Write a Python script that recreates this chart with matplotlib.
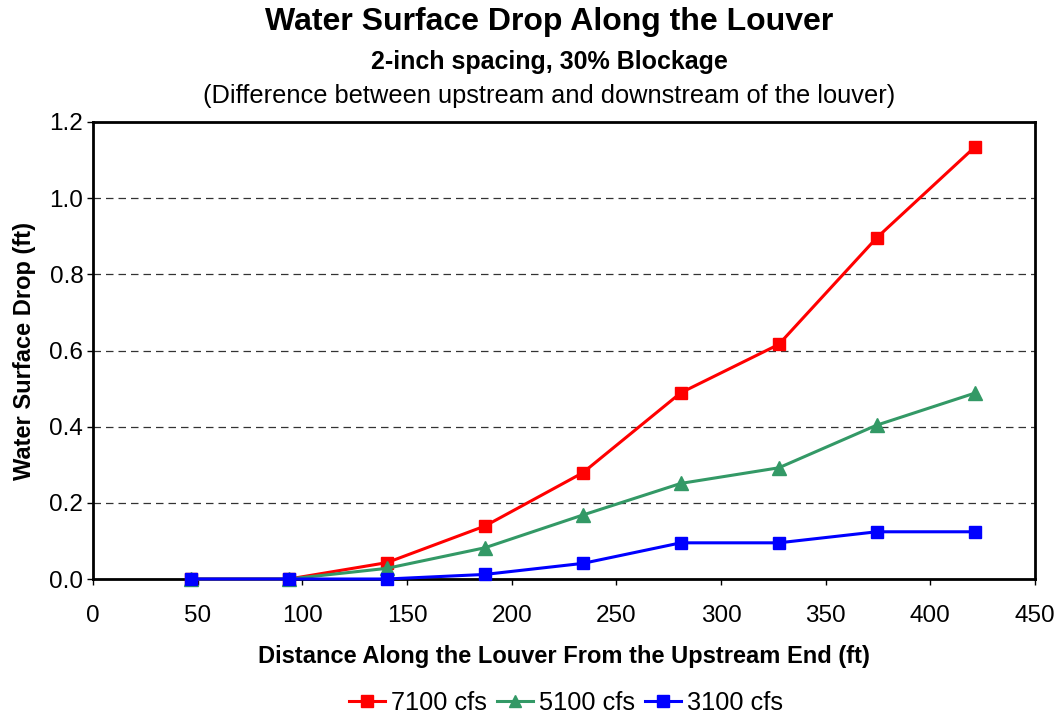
import matplotlib
matplotlib.use("Agg")
import matplotlib.pyplot as plt
from matplotlib.ticker import FormatStrFormatter

plt.rcParams['font.family'] = ['Liberation Sans', 'DejaVu Sans']

# distance along louver (ft)
distance = [46.8, 93.6, 140.4, 187.2, 234.0, 280.8, 327.6, 374.4, 421.2]

drop_7100 = [0.0, 0.0, 0.043, 0.139, 0.279, 0.489, 0.616, 0.896, 1.134]
drop_5100 = [0.0, 0.0, 0.028, 0.082, 0.168, 0.251, 0.292, 0.404, 0.488]
drop_3100 = [0.0, 0.0, 0.0, 0.012, 0.041, 0.095, 0.095, 0.124, 0.124]

series = [
    ('7100 cfs', drop_7100, '#ff0000', 's'),
    ('5100 cfs', drop_5100, '#339966', '^'),
    ('3100 cfs', drop_3100, '#0000ff', 's'),
]

fig = plt.figure(figsize=(10.62, 7.17), dpi=100)
ax = fig.add_axes([93 / 1062, 1 - 579 / 717, (1035 - 93) / 1062, (579 - 122) / 717])

for label, vals, color, marker in series:
    ax.plot(distance, vals, color=color, marker=marker, markersize=8.5 if marker == 's' else 9.5,
            linewidth=2.2, label=label, clip_on=False, zorder=3)

ax.set_xlim(0, 450)
ax.set_ylim(0, 1.2)
ax.set_xticks(range(0, 451, 50))
ax.set_yticks([0.0, 0.2, 0.4, 0.6, 0.8, 1.0, 1.2])
ax.yaxis.set_major_formatter(FormatStrFormatter('%.1f'))
ax.tick_params(direction='out', length=4, width=1, labelsize=17.5, colors='black')
ax.tick_params(axis='x', pad=15)
ax.tick_params(axis='y', pad=3)

for y in [0.2, 0.4, 0.6, 0.8, 1.0]:
    ax.axhline(y, color='#333333', linestyle=(0, (6, 4)), linewidth=0.9, zorder=1)

for s in ax.spines.values():
    s.set_linewidth(2)
    s.set_color('black')

ax.set_xlabel('Distance Along the Louver From the Upstream End (ft)', fontsize=17,
              fontweight='bold')
ax.set_ylabel('Water Surface Drop (ft)', fontsize=17, fontweight='bold')
ax.xaxis.set_label_coords(0.5, -(645 - 579) / 457)
ax.yaxis.set_label_coords((36 - 93) / 942, 0.5)

cx = 549 / 1062
fig.text(cx, 1 - 22 / 717, 'Water Surface Drop Along the Louver', ha='center', va='center',
         fontsize=23, fontweight='bold')
fig.text(cx, 1 - 62 / 717, '2-inch spacing, 30% Blockage', ha='center', va='center',
         fontsize=18, fontweight='bold')
fig.text(cx, 1 - 96 / 717, '(Difference between upstream and downstream of the louver)',
         ha='center', va='center', fontsize=18.3)

fig.legend(loc='center', bbox_to_anchor=(566 / 1062, 1 - 703 / 717), ncol=3, frameon=False,
           fontsize=18.3, handlelength=1.4, handletextpad=0.25, columnspacing=0.4,
           markerscale=0.95)

fig.savefig('out.png', dpi=100)
